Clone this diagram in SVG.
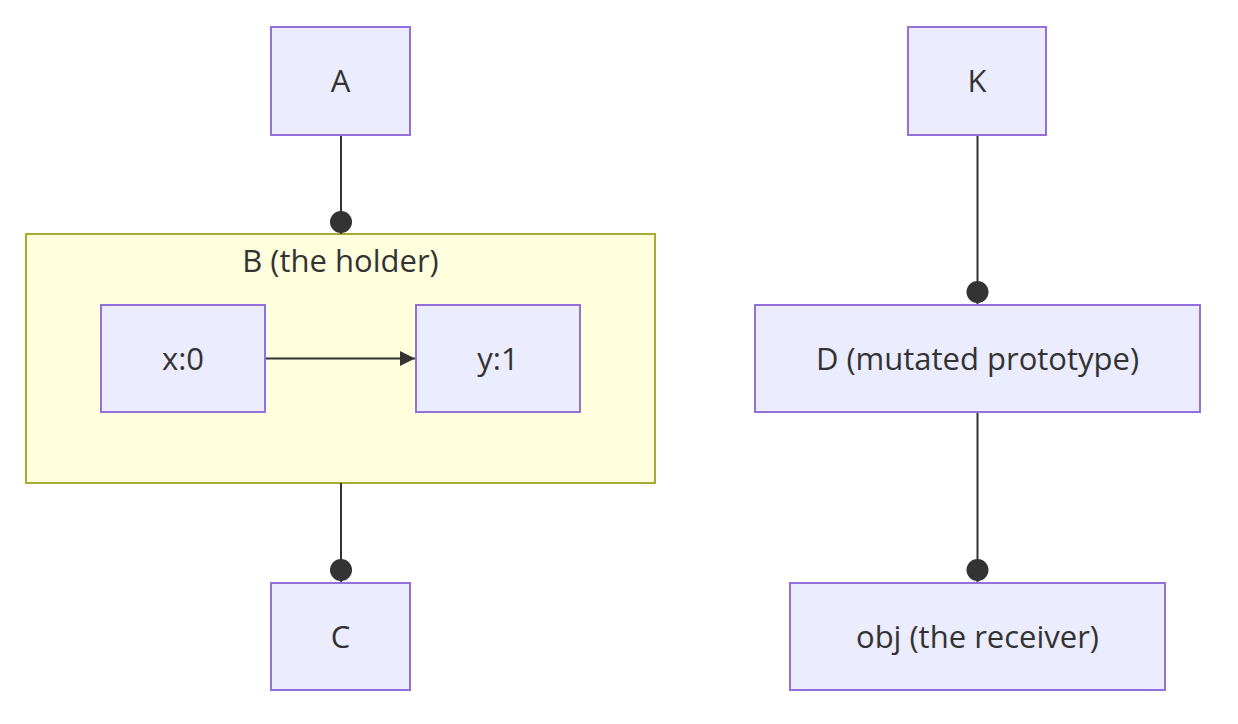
<svg xmlns="http://www.w3.org/2000/svg" width="1238" height="724" viewBox="0 0 1238 724">
<style>
.node rect{fill:#ECECFF;stroke:#9370DB;stroke-width:2}
.cluster rect{fill:#FFFFDE;stroke:#AAAA33;stroke-width:2}
text{font-family:"Trebuchet MS","Open Sans","DejaVu Sans",sans-serif;font-size:31px;fill:#333;text-anchor:middle}
.edge{stroke:#333;stroke-width:2;fill:none}
.dot{fill:#333}
</style>
<defs>
<marker id="arrow" viewBox="0 0 10 10" refX="10" refY="5" markerWidth="15" markerHeight="16" markerUnits="userSpaceOnUse" orient="auto">
<path d="M0,0 L10,5 L0,10 z" fill="#333"/>
</marker>
</defs>
<rect width="1238" height="724" fill="#fff"/>
<g id="B">
<g class="cluster"><rect x="26" y="234" width="629" height="249"/></g>
<text x="340.5" y="272">B (the holder)</text>
</g>
<g id="connectors">
<line class="edge" x1="341" y1="135" x2="341" y2="234"/>
<circle class="dot" cx="341" cy="222" r="11"/>
<line class="edge" x1="341" y1="483" x2="341" y2="583"/>
<circle class="dot" cx="341" cy="570" r="11"/>
<line class="edge" x1="266" y1="358.5" x2="415" y2="358.5" marker-end="url(#arrow)"/>
<line class="edge" x1="977.5" y1="135" x2="977.5" y2="305"/>
<circle class="dot" cx="977.5" cy="292" r="11"/>
<line class="edge" x1="977.5" y1="412" x2="977.5" y2="583"/>
<circle class="dot" cx="977.5" cy="570" r="11"/>
</g>
<g id="A" class="node"><rect x="271" y="27" width="139" height="108"/><text x="340.5" y="92">A</text></g>
<g id="x0" class="node"><rect x="101" y="305" width="164" height="107"/><text x="183" y="370">x:0</text></g>
<g id="y1" class="node"><rect x="416" y="305" width="164" height="107"/><text x="498" y="370">y:1</text></g>
<g id="C" class="node"><rect x="271" y="583" width="139" height="107"/><text x="340.5" y="648">C</text></g>
<g id="K" class="node"><rect x="908" y="27" width="138" height="108"/><text x="977" y="92">K</text></g>
<g id="D" class="node"><rect x="755" y="305" width="445" height="107"/><text x="977.5" y="370">D (mutated prototype)</text></g>
<g id="obj" class="node"><rect x="790" y="583" width="375" height="107"/><text x="977.5" y="648">obj (the receiver)</text></g>
</svg>
